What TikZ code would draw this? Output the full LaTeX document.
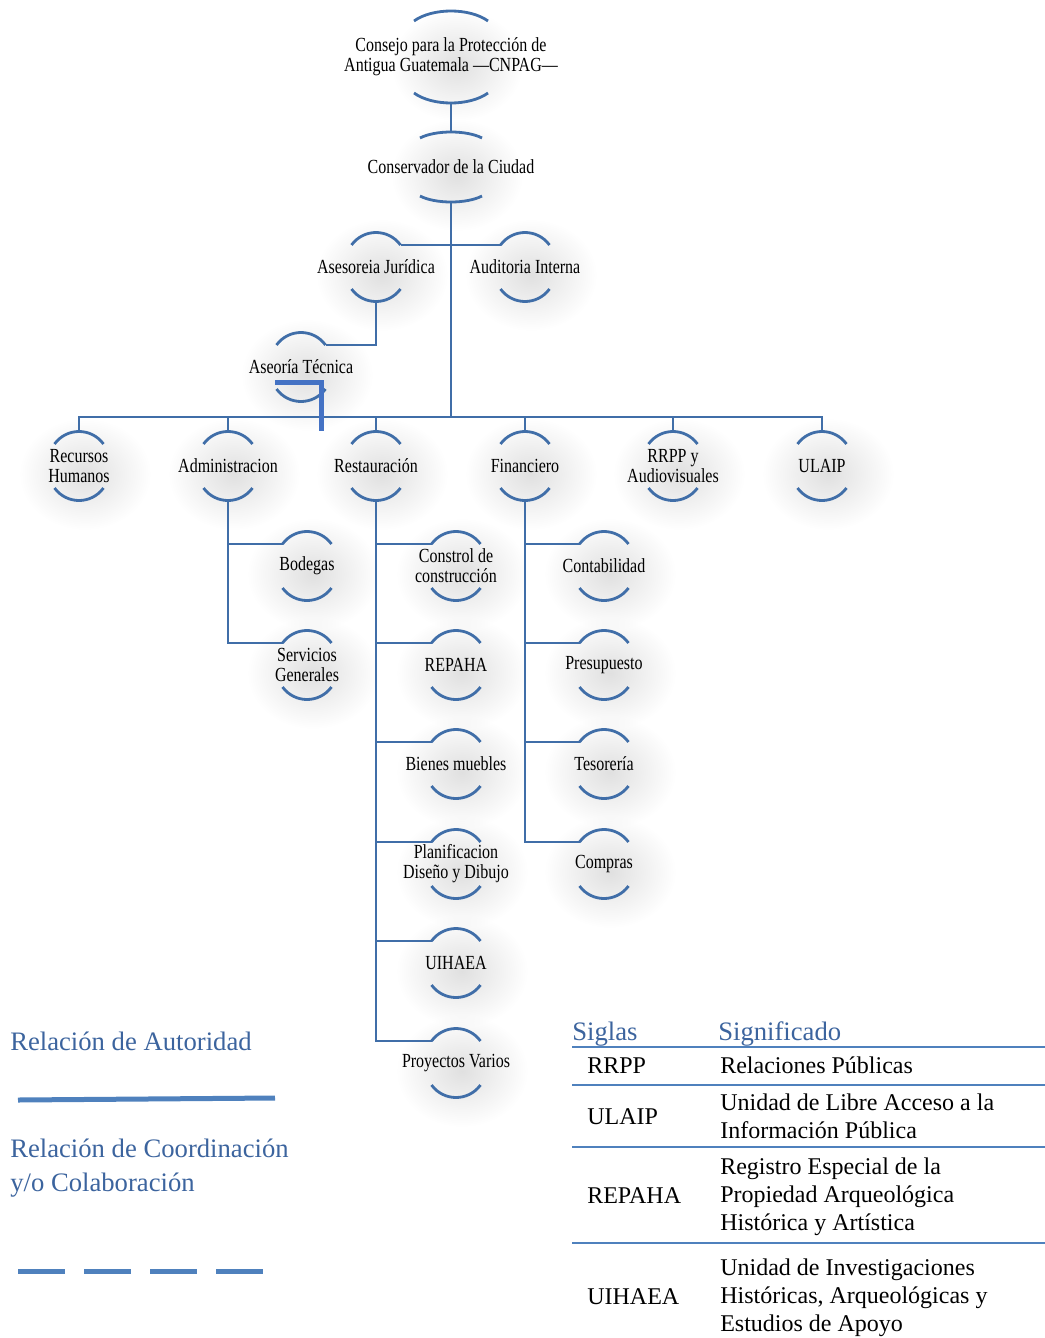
\documentclass[tikz,border=0pt]{standalone}
\usepackage{fontspec}
\setmainfont{Liberation Serif}
\newfontfamily\unitfont[FakeStretch=0.8, Ligatures=TeX]{Liberation Serif}
\usetikzlibrary{fadings,backgrounds}

\definecolor{orgblue}{RGB}{64,110,168}
\definecolor{keyblue}{RGB}{79,129,189}
\definecolor{titleblue}{RGB}{60,100,158}
\definecolor{markblue}{RGB}{68,114,196}

\tikzfading[name=glow, inner color=transparent!0, outer color=transparent!100]

% arcs over and under a unit: node, half width, gap, bulge
\newcommand{\unitarcs}[4]{%
  \draw[arcline, shift={(#1.center)}]
    (-#2,-#3) coordinate (#1-tl)
      .. controls ({-#2/2},{-#3-4*#4/3}) and ({#2/2},{-#3-4*#4/3}) .. (#2,-#3) coordinate (#1-tr)
    (-#2,#3) .. controls ({-#2/2},{#3+4*#4/3}) and ({#2/2},{#3+4*#4/3}) .. (#2,#3)
    (0,{-#3-#4}) coordinate (#1-top)
    (0,{#3+#4}) coordinate (#1-bot);}

\begin{document}
\begin{tikzpicture}[x=0.75pt, y=-0.75pt,
  arcline/.style={orgblue, line width=2.1pt},
  orgline/.style={orgblue, line width=2.1pt},
  unit/.style={font=\unitfont\fontsize{15}{15}\selectfont, align=center, inner sep=0pt},
  halo/.style={fill=black!12, path fading=glow},
  keytext/.style={titleblue, font=\fontsize{20}{26}\selectfont, align=left, inner sep=0pt},
  celltext/.style={font=\fontsize{18}{21}\selectfont, align=left, inner sep=0pt},
  tablerule/.style={keyblue, line width=1.5pt}]
  \useasboundingbox (0,0) rectangle (1045,1338);

  % units
  \node[unit] (cnpag) at (451,57) {Consejo para la Protección de\\Antigua Guatemala —CNPAG—};
  \node[unit] (cons) at (451,167) {Conservador de la Ciudad};
  \node[unit] (jur) at (376,267) {Asesoreia Jurídica};
  \node[unit] (aud) at (525,267) {Auditoria Interna};
  \node[unit] (tec) at (301,367) {Aseoría Técnica};
  \node[unit] (rh) at (79,466) {Recursos\\Humanos};
  \node[unit] (adm) at (228,466) {Administracion};
  \node[unit] (rest) at (376,466) {Restauración};
  \node[unit] (fin) at (525,466) {Financiero};
  \node[unit] (rrpp) at (673,466) {RRPP y\\Audiovisuales};
  \node[unit] (ulaip) at (822,466) {ULAIP};
  \node[unit] (bod) at (307,566) {Bodegas};
  \node[unit] (serv) at (307,665) {Servicios\\Generales};
  \node[unit] (ctrl) at (456,566) {Constrol de\\construcción};
  \node[unit] (repaha) at (456,665) {REPAHA};
  \node[unit] (bienes) at (456,764) {Bienes muebles};
  \node[unit] (plan) at (456,864) {Planificacion\\Diseño y Dibujo};
  \node[unit] (uihaea) at (456,963) {UIHAEA};
  \node[unit] (proy) at (456,1063) {Proyectos Varios};
  \node[unit] (cont) at (604,566) {Contabilidad};
  \node[unit] (pres) at (604,665) {Presupuesto};
  \node[unit] (teso) at (604,764) {Tesorería};
  \node[unit] (comp) at (604,864) {Compras};

  \unitarcs{cnpag}{37}{36}{10}
  \unitarcs{cons}{31}{29}{6}
  \foreach \n in {jur,aud,tec,rh,adm,rest,fin,rrpp,ulaip,bod,serv,ctrl,repaha,bienes,plan,uihaea,proy,cont,pres,teso,comp}
    \unitarcs{\n}{24.5}{22}{12.5};

  % lines of authority
  \coordinate (bar) at (451,417);
  \draw[orgline] (cnpag-bot) -- (cons-top);
  \draw[orgline] (cons-bot) -- (bar);
  \draw[orgline] (jur-tr) -- (aud-tl);
  \draw[orgline] (jur-bot) |- (tec-tr);
  \draw[orgline] (rh-top) |- (bar) -| (ulaip-top);
  \foreach \n in {adm,rest,fin,rrpp}
    \draw[orgline] (\n-top) |- (bar);
  \foreach \n in {bod,serv}
    \draw[orgline] (adm-bot) |- (\n-tl);
  \foreach \n in {ctrl,repaha,bienes,plan,uihaea,proy}
    \draw[orgline] (rest-bot) |- (\n-tl);
  \foreach \n in {cont,pres,teso,comp}
    \draw[orgline] (fin-bot) |- (\n-tl);
  \draw[markblue, line width=3.75pt] (275,382.5) -- (321,382.5) -- (321,431);

  \begin{pgfonlayer}{background}
    \foreach \n in {cnpag,cons,jur,aud,tec,rh,adm,rest,fin,rrpp,ulaip,bod,serv,ctrl,repaha,bienes,plan,uihaea,proy,cont,pres,teso,comp}
      \fill[halo] ([shift={(6,8)}]\n.center) ellipse [x radius=66, y radius=56];
  \end{pgfonlayer}

  % key
  \node[keytext, anchor=base west] (authkey) at (10,1050) {Relación de Autoridad};
  \draw[keyblue, line width=3.75pt] (18,1100) -- (275,1098);
  \node[keytext, anchor=west] (coordkey) at (10,1168) {Relación de Coordinación\\y/o Colaboración};
  \draw[keyblue, line width=3.75pt, dash pattern=on 35.25pt off 14.25pt] (18,1271) -- (263,1271);

  % acronyms
  \node[keytext, anchor=base west] (siglas) at (572,1040) {Siglas};
  \node[keytext, anchor=base west] (signif) at (718,1040) {Significado};
  \draw[tablerule] (572,1047) -- (1045,1047);
  \draw[tablerule] (572,1085) -- (1045,1085);
  \draw[tablerule] (572,1147) -- (1045,1147);
  \draw[tablerule] (572,1243) -- (1045,1243);
  \node[celltext, anchor=base west] (s1) at (587,1073) {RRPP};
  \node[celltext, anchor=base west] (m1) at (720,1073) {Relaciones Públicas};
  \node[celltext, anchor=base west] (s2) at (587,1124) {ULAIP};
  \node[celltext, anchor=west] (m2) at (720,1116) {Unidad de Libre Acceso a la\\Información Pública};
  \node[celltext, anchor=base west] (s3) at (587,1203) {REPAHA};
  \node[celltext, anchor=west] (m3) at (720,1197) {Registro Especial de la\\Propiedad Arqueológica\\Histórica y Artística};
  \node[celltext, anchor=base west] (s4) at (587,1304) {UIHAEA};
  \node[celltext, anchor=west] (m4) at (720,1298) {Unidad de Investigaciones\\Históricas, Arqueológicas y\\Estudios de Apoyo};
\end{tikzpicture}
\end{document}
